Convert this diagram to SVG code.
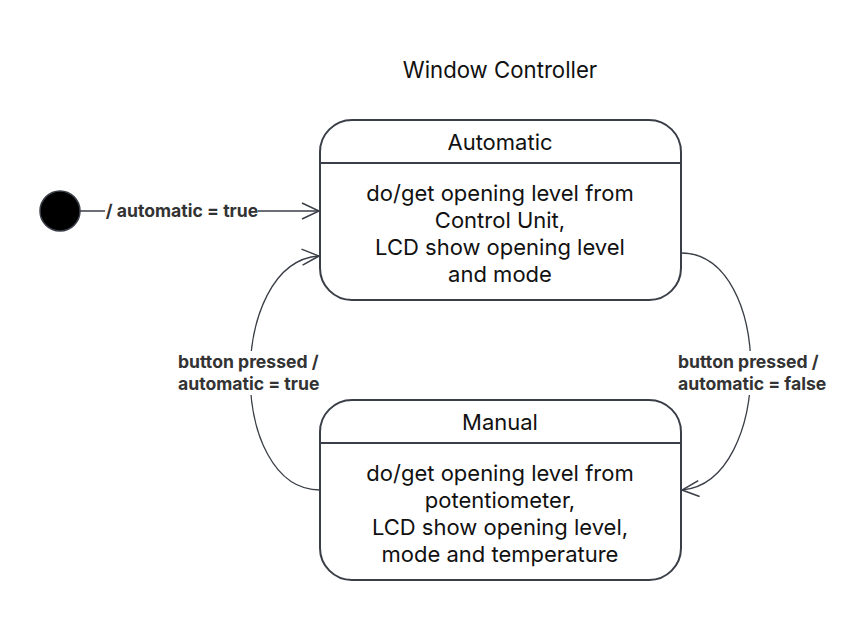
<svg xmlns="http://www.w3.org/2000/svg" width="867" height="620" viewBox="0 0 867 620">
<defs>
<style>
.box{fill:#fff;stroke:#3a3e47;stroke-width:2}
.div{stroke:#3a3e47;stroke-width:2}
.edge{fill:none;stroke:#3a3e47;stroke-width:1.3}
.title{font-family:Inter,"Liberation Sans",sans-serif;font-size:22.2px;fill:#111;text-anchor:middle}
.body{font-family:Inter,"Liberation Sans",sans-serif;font-size:22px;fill:#111;text-anchor:middle}
.lbl{font-family:Inter,"Liberation Sans",sans-serif;font-size:17.6px;font-weight:bold;fill:#333}
</style>
<marker id="open" viewBox="0 0 20 20" refX="18" refY="10" markerWidth="20" markerHeight="20" markerUnits="userSpaceOnUse" orient="auto">
<path d="M1,2 L18,10 L1,18" fill="none" stroke="#3a3e47" stroke-width="1.5"/>
</marker>
</defs>
<rect width="867" height="620" fill="#fff"/>
<text class="title" x="500" y="78">Window Controller</text>
<g id="edges">
<path class="edge" d="M80,211 L319,211" marker-end="url(#open)"/>
<path class="edge" d="M320,490 C227,490 227,262 319,256" marker-end="url(#open)"/>
<path class="edge" d="M681,253 C774,253 774,482 682,490" marker-end="url(#open)"/>
<rect x="105" y="201" width="153" height="20" fill="#fff"/>
<text class="lbl" x="182" y="217" text-anchor="middle">/ automatic = true</text>
<rect x="176" y="351" width="146" height="44" fill="#fff"/>
<text class="lbl" x="178" y="368">button pressed /</text>
<text class="lbl" x="178" y="390">automatic = true</text>
<rect x="676" y="351" width="154" height="44" fill="#fff"/>
<text class="lbl" x="678" y="368">button pressed /</text>
<text class="lbl" x="678" y="390">automatic = false</text>
</g>
<g id="initial">
<circle cx="60" cy="211" r="20" fill="#000" stroke="#3a3e47" stroke-width="1.5"/>
</g>
<g id="automatic">
<rect class="box" x="320" y="120" width="361" height="180" rx="32"/>
<line class="div" x1="320" y1="163" x2="681" y2="163"/>
<text class="body" x="500" y="150">Automatic</text>
<text class="body" x="500" y="201">do/get opening level from</text>
<text class="body" x="500" y="228">Control Unit,</text>
<text class="body" x="500" y="255">LCD show opening level</text>
<text class="body" x="500" y="282">and mode</text>
</g>
<g id="manual">
<rect class="box" x="320" y="400" width="361" height="180" rx="32"/>
<line class="div" x1="320" y1="443" x2="681" y2="443"/>
<text class="body" x="500" y="430">Manual</text>
<text class="body" x="500" y="481">do/get opening level from</text>
<text class="body" x="500" y="508">potentiometer,</text>
<text class="body" x="500" y="535">LCD show opening level,</text>
<text class="body" x="500" y="562">mode and temperature</text>
</g>
</svg>
